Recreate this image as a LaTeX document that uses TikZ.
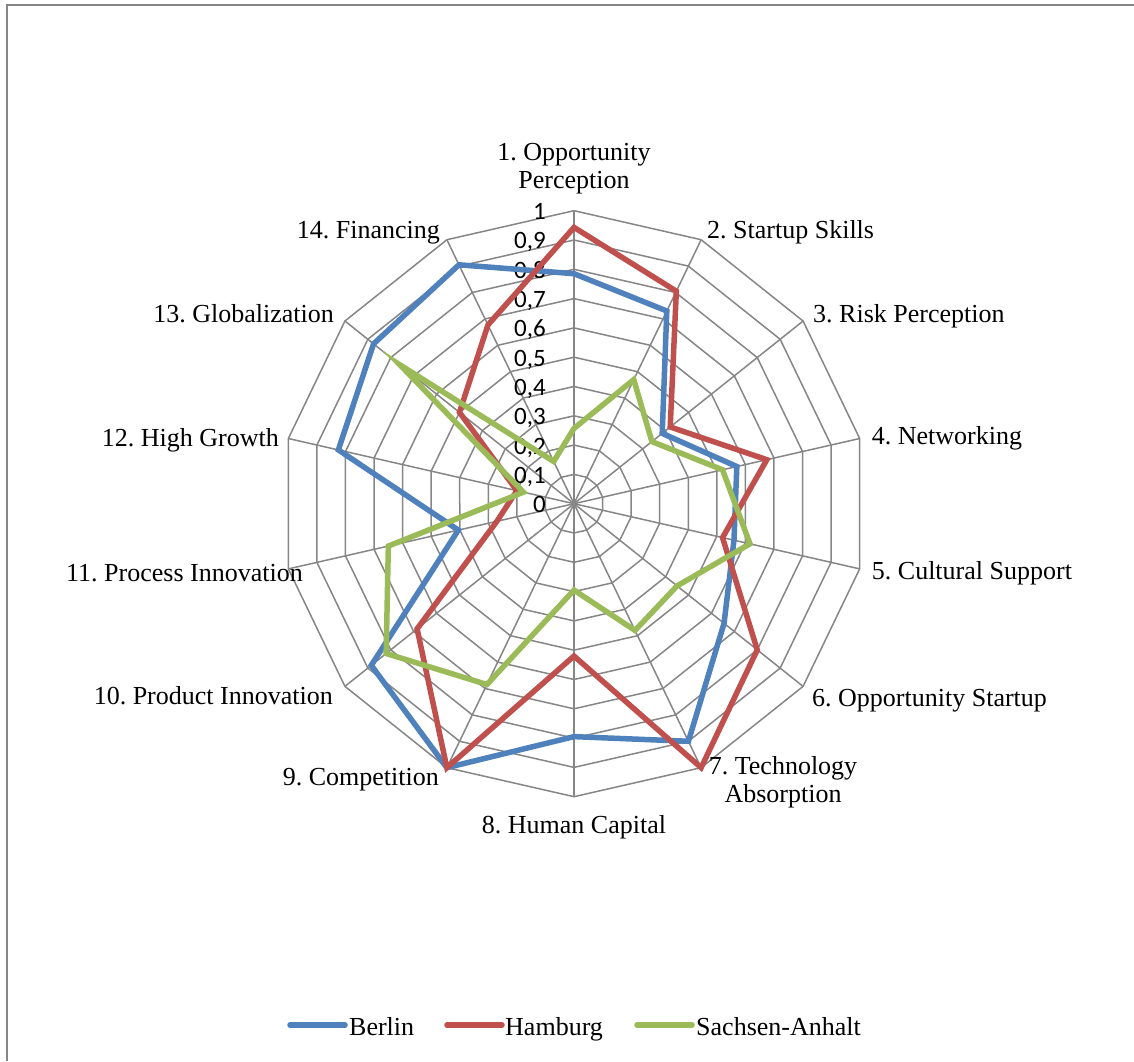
\documentclass[tikz,border=0pt]{standalone}
\usepackage{fontspec}
\setmainfont{Liberation Serif}
\newfontfamily\tickfont{Carlito}
\definecolor{gridgray}{HTML}{868686}
\definecolor{berlin}{HTML}{4F81BD}
\definecolor{hamburg}{HTML}{C0504D}
\definecolor{sachsen}{HTML}{9BBB59}
\frenchspacing

\begin{document}
\begin{tikzpicture}[x=1pt,y=1pt,
  gridline/.style={draw=gridgray,line width=1.5pt},
  frameline/.style={draw=gridgray,line width=2pt},
  series/.style={line width=5.5pt,line join=miter},
  keyline/.style={line width=5.5pt,line cap=round},
  axislabel/.style={font=\fontsize{26}{28}\selectfont,inner sep=0pt},
  ticklabel/.style={font=\tickfont\fontsize{25}{28}\selectfont,inner sep=0pt,anchor=base east},
  keytext/.style={font=\fontsize{26}{28}\selectfont,inner sep=0pt,anchor=base west}]

\useasboundingbox (0,0) rectangle (1134,1061);
\fill[white] (0,0) rectangle (1134,1061);

% chart frame (left and top edges)
\draw[frameline] (6.7,0) -- (6.7,1056.3) -- (1134,1056.3);

\begin{scope}[shift={(574,557.3)}]
  % concentric rings, 0.1 apart
  \foreach \l in {1,...,10} {
    \draw[gridline] (90:\l*29.3) \foreach \k in {1,...,13} { -- ({90-\k*360/14}:\l*29.3) } -- cycle;
  }
  % spokes
  \foreach \k in {1,...,14} {
    \coordinate (o\k) at ({90-(\k-1)*360/14}:293);
    \draw[gridline] (0,0) -- (o\k);
  }

  % scale labels
  \node[ticklabel] (t0) at (-28,-9) {0};
  \foreach \l in {1,...,9} {
    \node[ticklabel] (t\l) at (-28,\l*29.3-9) {0,\l};
  }
  \node[ticklabel] (t10) at (-28,293-9) {1};

  % data points
  \foreach \v [count=\k] in {0.785,0.73,0.385,0.57,0.56,0.655,0.90,0.795,1.0,0.885,0.405,0.825,0.875,0.905}
    \coordinate (ber\k) at ({90-(\k-1)*360/14}:{\v*293});
  \foreach \v [count=\k] in {0.943,0.805,0.42,0.675,0.52,0.80,1.0,0.52,1.0,0.685,0.27,0.20,0.50,0.677}
    \coordinate (ham\k) at ({90-(\k-1)*360/14}:{\v*293});
  \foreach \v [count=\k] in {0.257,0.47,0.34,0.52,0.616,0.45,0.48,0.295,0.685,0.82,0.65,0.177,0.76,0.16}
    \coordinate (sac\k) at ({90-(\k-1)*360/14}:{\v*293});

  \draw[series,berlin] (ber1) \foreach \k in {2,...,14} { -- (ber\k) } -- cycle;
  \draw[series,hamburg] (ham1) \foreach \k in {2,...,14} { -- (ham\k) } -- cycle;
  \draw[series,sachsen] (sac1) \foreach \k in {2,...,14} { -- (sac\k) } -- cycle;
\end{scope}

% category labels
\node[axislabel,align=center] (a1) at (574,892.6) {1. Opportunity\\Perception};
\node[axislabel,anchor=base west] (a2) at (707,822) {2. Startup Skills};
\node[axislabel,anchor=base west] (a3) at (813,738) {3. Risk Perception};
\node[axislabel,anchor=base west] (a4) at (871.7,616) {4. Networking};
\node[axislabel,anchor=base west] (a5) at (871.7,481) {5. Cultural Support};
\node[axislabel,anchor=base west] (a6) at (812,355) {6. Opportunity Startup};
\node[axislabel,align=center] (a7) at (783,279) {7. Technology\\Absorption};
\node[axislabel,anchor=base] (a8) at (574,228) {8. Human Capital};
\node[axislabel,anchor=base east] (a9) at (439,276) {9. Competition};
\node[axislabel,anchor=base east] (a10) at (333,357) {10. Product Innovation};
\node[axislabel,anchor=base east] (a11) at (303,479) {11. Process Innovation};
\node[axislabel,anchor=base east] (a12) at (279,614) {12. High Growth};
\node[axislabel,anchor=base east] (a13) at (334,738) {13. Globalization};
\node[axislabel,anchor=base east] (a14) at (440,822) {14. Financing};

% legend
\coordinate (k1a) at (290,36); \coordinate (k1b) at (345,36);
\coordinate (k2a) at (447,36); \coordinate (k2b) at (502,36);
\coordinate (k3a) at (637,36); \coordinate (k3b) at (692,36);
\draw[keyline,berlin] (k1a) -- (k1b);
\draw[keyline,hamburg] (k2a) -- (k2b);
\draw[keyline,sachsen] (k3a) -- (k3b);
\node[keytext] (l1) at (349,26) {Berlin};
\node[keytext] (l2) at (505,26) {Hamburg};
\node[keytext] (l3) at (696,26) {Sachsen-Anhalt};
\end{tikzpicture}
\end{document}
